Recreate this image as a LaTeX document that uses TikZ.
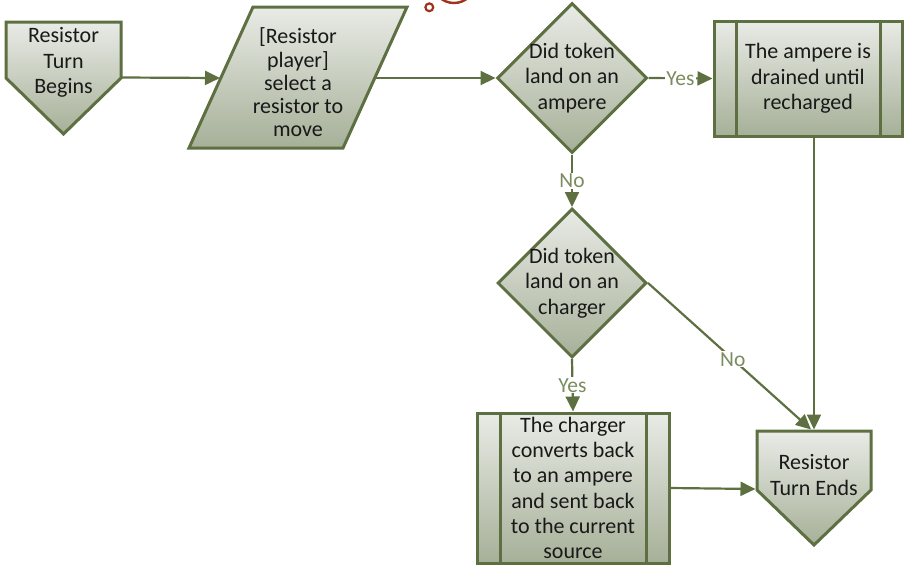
\documentclass[tikz,border=0pt]{standalone}
\usepackage{fontspec}
\setmainfont{Carlito}
\usetikzlibrary{arrows.meta,shapes.geometric}
\definecolor{bord}{HTML}{5E6F41}
\definecolor{ftop}{HTML}{E9EBE6}
\definecolor{fbot}{HTML}{A6B098}
\definecolor{lab}{HTML}{7B8C5E}
\definecolor{redd}{HTML}{A0321C}
\begin{document}
\begin{tikzpicture}[x=1pt,y=-1pt,
  shp/.style={draw=bord,line width=3pt,top color=ftop,bottom color=fbot,line join=miter},
  txt/.style={align=center,font=\fontsize{22}{25.3}\selectfont,inner sep=0pt,text=black!90},
  conn/.style={draw=bord,line width=2.2pt,-{Triangle[length=15pt,width=14pt]}},
  lbl/.style={fill=white,text=lab,font=\fontsize{21.5}{24}\selectfont,inner sep=1pt},
  sep/.style={draw=bord,line width=3pt}]
\useasboundingbox (0,0) rectangle (910,568);

% decoration at top
\begin{scope}
  \clip (0,0) rectangle (910,568);
  \draw[redd,line width=2.2pt] (429.3,7.3) circle (3.9);
  \draw[redd,line width=2.4pt] (454,-18.7) circle (21.7);
\end{scope}

% start
\path[shp] (6,22) -- (121,22) -- (121,78) -- (63.5,134) -- (6,78) -- cycle;
\node[txt] (start) at (63.5,62.5) {Resistor\\Turn\\Begins};
\coordinate (startR) at (121,77.5);

% parallelogram
\path[shp] (253,7) -- (407,7) -- (343,148) -- (189,148) -- cycle;
\node[txt,font=\fontsize{22}{23.3}\selectfont] (sel) at (298,82.5) {[Resistor\\player]\\select a\\resistor to\\move};
\coordinate (selL) at (220,78);
\coordinate (selR) at (376,78);

% decision 1
\node[shp,diamond,aspect=1,minimum width=150pt,minimum height=150pt,inner sep=0pt] (d1) at (572,78) {};
\node[txt] (d1t) at (d1) {Did token\\land on an\\ampere};

% process 1
\node[shp,rectangle,minimum width=188pt,minimum height=115pt,inner sep=0pt] (b1) at (808,78.5) {};
\draw[sep] ([xshift=24pt]b1.north west) -- ([xshift=24pt]b1.south west);
\draw[sep] ([xshift=-23pt]b1.north east) -- ([xshift=-23pt]b1.south east);
\node[txt] (b1t) at (b1) {The ampere is\\drained until\\recharged};

% decision 2
\node[shp,diamond,aspect=1,minimum width=149pt,minimum height=149pt,inner sep=0pt] (d2) at (572,283) {};
\node[txt] (d2t) at (d2) {Did token\\land on an\\charger};

% process 2
\node[shp,rectangle,minimum width=192pt,minimum height=150pt,inner sep=0pt] (b2) at (573,488) {};
\draw[sep] ([xshift=25pt]b2.north west) -- ([xshift=25pt]b2.south west);
\draw[sep] ([xshift=-24pt]b2.north east) -- ([xshift=-24pt]b2.south east);
\node[txt] (b2t) at (b2) {The charger\\converts back\\to an ampere\\and sent back\\to the current\\source};

% end
\path[shp] (757,431) -- (871,431) -- (871,490) -- (814,545) -- (757,490) -- cycle;
\node[txt] (endt) at (814,475) {Resistor\\Turn Ends};
\coordinate (endN) at (814,429.5);
\coordinate (endNd) at (811,429.5);
\coordinate (endL) at (755.5,489);

% connectors
\draw[conn] (startR) -- (selL);
\draw[conn] (selR) -- (d1.west);
\draw[conn] (d1.east) -- node[lbl,pos=0.5] (yes1) {Yes} (b1.west);
\draw[conn] (d1.south) -- node[lbl,pos=0.5] (no1) {No} (d2.north);
\draw[conn] (d2.south) -- node[lbl,pos=0.5] (yes2) {Yes} (b2.north);
\draw[conn] (d2.east) -- node[lbl,pos=0.52] (no2) {No} (endNd);
\draw[conn] (b1.south -| endN) -- (endN);
\draw[conn] (b2.east) -- (endL);
\end{tikzpicture}
\end{document}
